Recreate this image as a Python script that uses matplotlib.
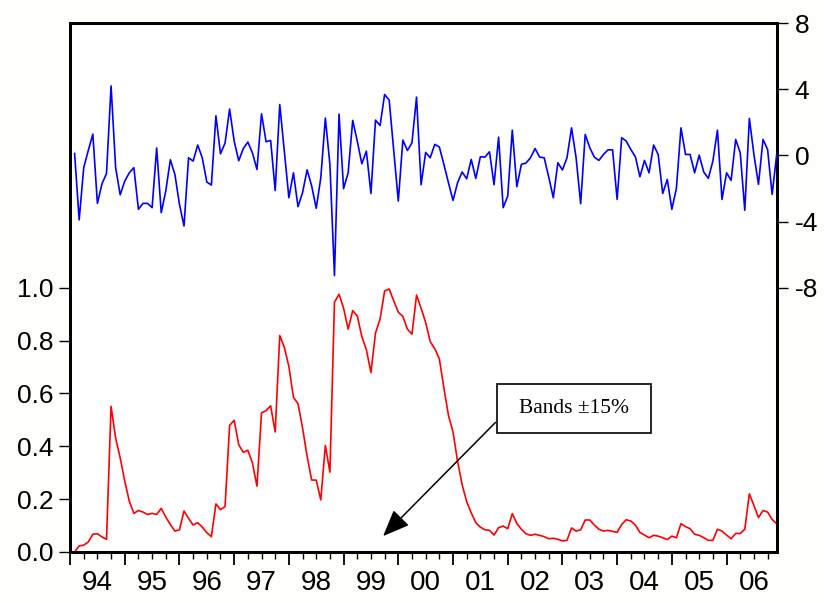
import numpy as np
import matplotlib
matplotlib.use("Agg")
import matplotlib.pyplot as plt
from matplotlib.patches import Rectangle
from matplotlib.ticker import FixedLocator, FixedFormatter

plt.rcParams["axes.unicode_minus"] = False
plt.rcParams["font.family"] = ["Liberation Sans", "DejaVu Sans"]

# Monthly sample 1994M01 - 2006M12
year_labels = ["94", "95", "96", "97", "98", "99", "00", "01", "02", "03", "04", "05", "06"]

# Probability of being inside the band (left scale), 1994M01 onwards
prob = [
    0.0, 0.0, 0.023, 0.026, 0.038, 0.067, 0.069, 0.057, 0.048, 0.551,
    0.431, 0.356, 0.268, 0.192, 0.146, 0.157, 0.151, 0.142, 0.146, 0.142,
    0.165, 0.132, 0.104, 0.079, 0.084, 0.155, 0.127, 0.102, 0.111, 0.094,
    0.073, 0.058, 0.182, 0.160, 0.172, 0.479, 0.498, 0.406, 0.377, 0.385,
    0.337, 0.249, 0.526, 0.535, 0.553, 0.454, 0.819, 0.774, 0.702, 0.585,
    0.561, 0.469, 0.362, 0.272, 0.272, 0.197, 0.403, 0.302, 0.945, 0.975,
    0.922, 0.843, 0.913, 0.893, 0.815, 0.765, 0.679, 0.828, 0.881, 0.987,
    0.995, 0.950, 0.907, 0.891, 0.843, 0.824, 0.972, 0.922, 0.868, 0.796,
    0.769, 0.731, 0.620, 0.517, 0.454, 0.343, 0.255, 0.190, 0.148, 0.111,
    0.094, 0.084, 0.082, 0.064, 0.092, 0.098, 0.088, 0.145, 0.108, 0.086,
    0.069, 0.063, 0.067, 0.063, 0.058, 0.050, 0.052, 0.048, 0.042, 0.044,
    0.091, 0.079, 0.084, 0.121, 0.121, 0.102, 0.086, 0.079, 0.082, 0.078,
    0.074, 0.104, 0.122, 0.117, 0.102, 0.074, 0.064, 0.054, 0.063, 0.060,
    0.054, 0.047, 0.060, 0.054, 0.107, 0.096, 0.088, 0.067, 0.063, 0.054,
    0.044, 0.044, 0.086, 0.079, 0.064, 0.050, 0.070, 0.070, 0.086, 0.220,
    0.176, 0.130, 0.157, 0.151, 0.123, 0.107,
]

# Monthly change (right scale), 1994M02 onwards
change = [
    0.12, -3.90, -0.74, 0.30, 1.29, -2.90, -1.72, -1.09, 4.21, -0.74,
    -2.38, -1.55, -1.05, -0.74, -3.26, -2.90, -2.90, -3.16, 0.45, -3.46,
    -2.15, -0.26, -1.15, -2.96, -4.27, -0.14, -0.34, 0.63, -0.14, -1.61,
    -1.79, 2.40, 0.10, 0.75, 2.81, 0.87, -0.32, 0.42, 0.81, 0.16,
    -0.85, 2.52, 0.83, 0.91, -2.12, 3.08, 0.26, -2.56, -1.05, -3.10,
    -2.25, -0.87, -1.85, -3.20, -1.35, 2.26, -0.54, -7.27, 2.50, -2.01,
    -1.05, 2.12, 0.87, -0.50, 0.26, -2.30, 2.14, 1.81, 3.69, 3.35,
    0.30, -2.76, 0.93, 0.30, 0.77, 3.53, -1.77, 0.18, -0.14, 0.67,
    0.51, -0.54, -1.65, -2.72, -1.65, -1.00, -1.41, -0.24, -1.39, -0.08,
    -0.10, 0.22, -1.77, 1.11, -3.16, -2.46, 1.53, -1.89, -0.54, -0.46,
    -0.14, 0.42, -0.10, -0.14, -1.31, -2.56, -0.44, -0.88, -0.14, 1.67,
    -0.14, -2.92, 1.27, 0.47, -0.10, -0.30, 0.06, 0.34, 0.34, -2.66,
    1.07, 0.87, 0.36, -0.08, -1.29, -0.30, -1.05, 0.63, 0.06, -2.30,
    -1.45, -3.26, -1.99, 1.67, 0.06, 0.06, -1.05, 0.02, -1.00, -1.39,
    -0.34, 1.53, -2.66, -1.05, -1.51, 0.97, 0.16, -3.32, 2.24, 0.06,
    -1.75, 0.97, 0.36, -2.36, 0.06,
]

left_ticks = [0.0, 0.2, 0.4, 0.6, 0.8, 1.0]
right_ticks = [-8, -4, 0, 4, 8]

n_months = len(prob)
x_prob = np.arange(n_months)
x_change = np.arange(n_months - len(change), n_months)

fig = plt.figure(figsize=(8.24, 6.03), dpi=100, facecolor="#fefefa")
ax = fig.add_axes([0.085, 0.0846, 0.8576, 0.8768])
ax2 = ax.twinx()

ax.plot(x_prob, prob, color="#ff0000", lw=1.2, zorder=3)
ax2.plot(x_change, change, color="#0000ff", lw=1.2, zorder=3)

ax.set_xlim(0, n_months - 1)
ax.set_ylim(0, 2.0)
ax2.set_ylim(-24, 8)

spine_w = 2.0
for a in (ax, ax2):
    for s in a.spines.values():
        s.set_linewidth(spine_w)
        s.set_color("black")

# left scale
ax.set_yticks(left_ticks)
ax.set_yticklabels([f"{v:.1f}" for v in left_ticks])
ax.tick_params(axis="y", direction="out", length=8, width=1.0, pad=4,
               labelsize=19, colors="black")

# right scale
ax2.set_yticks(right_ticks)
ax2.set_yticklabels([str(v) for v in right_ticks])
ax2.tick_params(axis="y", direction="out", length=8, width=1.0, pad=5,
                labelsize=19, colors="black")

# time axis: long ticks at each January, short ticks at quarters,
# year labels centred on mid-year
year_starts = [12 * k for k in range(len(year_labels))]
quarter_pos = [12 * k + q for k in range(len(year_labels)) for q in (3, 6, 9)
               if 12 * k + q <= n_months - 1]
quarter_lab = [year_labels[p // 12] if p % 12 == 6 else "" for p in quarter_pos]
ax.xaxis.set_major_locator(FixedLocator(year_starts))
ax.xaxis.set_major_formatter(FixedFormatter([""] * len(year_starts)))
ax.xaxis.set_minor_locator(FixedLocator(quarter_pos))
ax.xaxis.set_minor_formatter(FixedFormatter(quarter_lab))
ax.tick_params(axis="x", which="major", direction="out", length=9, width=1.3)
ax.tick_params(axis="x", which="minor", direction="out", length=5, width=1.0,
               pad=8, labelsize=20)

# annotation box with arrow
ax.add_patch(Rectangle((0.604, 0.225), 0.218, 0.093, transform=ax.transAxes,
                       facecolor="white", edgecolor="black", lw=1.2, zorder=5))
ax.text(0.713, 0.2715, "Bands \u00b115%", transform=ax.transAxes,
        ha="center", va="center", fontsize=15.5,
        family=["Liberation Serif", "DejaVu Serif"], zorder=6)
ax.annotate("", xy=(0.443, 0.030), xycoords="axes fraction",
            xytext=(0.602, 0.245), textcoords="axes fraction",
            arrowprops=dict(arrowstyle="-|>,head_length=1.1,head_width=0.45",
                            mutation_scale=15, color="black", lw=1.1,
                            shrinkA=0, shrinkB=0), zorder=6)

fig.savefig("out.png", dpi=100, facecolor=fig.get_facecolor())
